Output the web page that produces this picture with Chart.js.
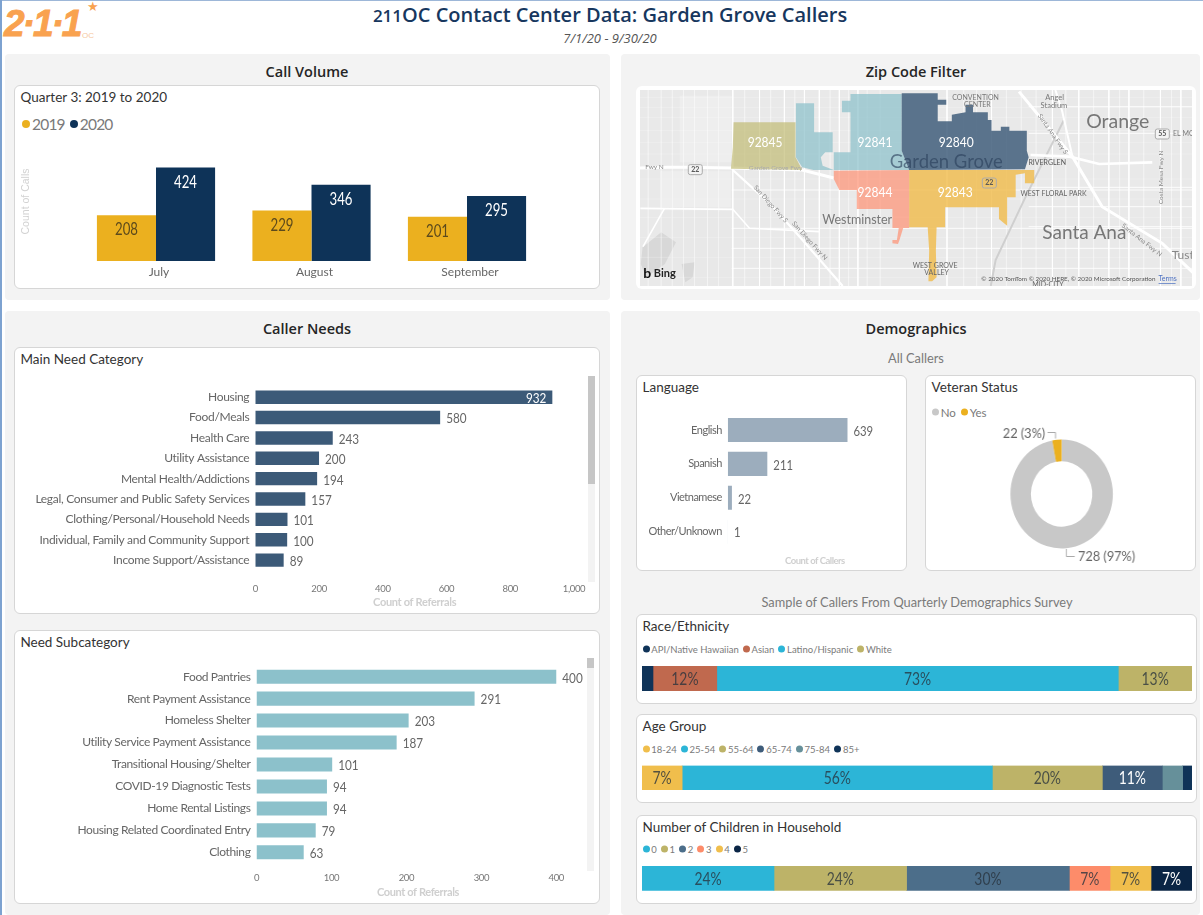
<!DOCTYPE html>
<html>
<head>
<meta charset="utf-8">
<title>211OC Contact Center Data: Garden Grove Callers</title>
<script src="https://cdn.jsdelivr.net/npm/chart.js@4"></script>
<style>
html, body { margin: 0; padding: 0; background: #fff; overflow: hidden; }
#page { position: relative; width: 1203px; height: 915px; overflow: hidden; font-family: Lato, "Liberation Sans", sans-serif; }
#page > * { position: absolute; }
.panel { background: #f3f3f3; border-radius: 4px; }
.card { background: #fff; border: 1.5px solid #d6d6d6; border-radius: 6px; box-sizing: border-box; }
.txt { white-space: nowrap; transform: translateY(-50%); }
.head { font: 600 14.5px "Open Sans", sans-serif; color: #252525; }
.ctitle { font-size: 13.5px; color: #333; }
.sub { font-size: 12.8px; color: #7a7a7a; }
.legend { display: flex; align-items: center; color: #7a7a7a; white-space: nowrap; transform: translateY(-50%); }
.legend i { display: inline-block; border-radius: 50%; }
canvas { display: block; }
</style>
</head>
<body>
<div id="page"></div>
<script>
const callMonths = ["July", "August", "September"];
const calls2019 = [208, 229, 201];
const calls2020 = [424, 346, 295];

const needCategories = ["Housing", "Food/Meals", "Health Care", "Utility Assistance", "Mental Health/Addictions", "Legal, Consumer and Public Safety Services", "Clothing/Personal/Household Needs", "Individual, Family and Community Support", "Income Support/Assistance"];
const needCounts = [932, 580, 243, 200, 194, 157, 101, 100, 89];

const subCategories = ["Food Pantries", "Rent Payment Assistance", "Homeless Shelter", "Utility Service Payment Assistance", "Transitional Housing/Shelter", "COVID-19 Diagnostic Tests", "Home Rental Listings", "Housing Related Coordinated Entry", "Clothing"];
const subCounts = [400, 291, 203, 187, 101, 94, 94, 79, 63];

const languages = ["English", "Spanish", "Vietnamese", "Other/Unknown"];
const languageCounts = [639, 211, 22, 1];

const veteranLabels = ["No", "Yes"];
const veteranCounts = [728, 22];

const raceLabels = ["API/Native Hawaiian", "Asian", "Latino/Hispanic", "White"];
const raceValues = [2, 11.6, 73, 13.4];
const ageLabels = ["18-24", "25-54", "55-64", "65-74", "75-84", "85+"];
const ageValues = [7.3, 56.4, 20, 10.9, 3.7, 1.7];
const childLabels = ["0", "1", "2", "3", "4", "5"];
const childValues = [24, 24.1, 29.6, 7.4, 7.45, 7.45];

// zip code outlines and roads, in map units
const zip92845 = [[305,215],[472,215],[472,320],[490,358],[298,354],[303,290]];
const zip92841 = [[473,158],[522,158],[522,245],[572,245],[572,305],[620,305],[620,185],[597,185],[597,150],[620,150],[620,130],[758,130],[758,300],[778,358],[575,358],[575,305],[552,305],[540,320],[545,345],[575,358],[520,358],[490,350],[473,320]];
const zip92840 = [[758,128],[855,128],[855,147],[878,147],[878,162],[855,162],[855,212],[893,212],[893,192],[930,185],[930,162],[950,162],[950,185],[990,185],[990,208],[1000,208],[1000,240],[1025,240],[1025,228],[1048,228],[1048,240],[1095,240],[1095,300],[1100,320],[1090,356],[778,358],[758,300]];
const zip92844 = [[575,360],[778,358],[778,532],[762,532],[752,568],[748,580],[733,578],[733,568],[745,568],[750,532],[733,532],[733,475],[637,475],[637,418],[590,418],[575,385]];
const zip92843 = [[778,358],[1090,358],[1090,368],[1065,372],[1065,440],[1042,440],[1042,525],[1020,505],[1020,470],[998,470],[875,470],[875,530],[852,530],[850,600],[852,680],[840,692],[830,692],[832,600],[828,530],[778,530]];
const zip92843b = [[1090,358],[1115,358],[1115,398],[1090,398]];
const zipLabels = ["92845", "92841", "92840", "92844", "92843"];
const zipLabelSpots = [[390,275],[686,275],[905,275],[686,425],[902,425]];

const hwy22 = [[53,352],[130,350],[175,350],[300,352],[490,358],[575,382]];
const hwy22East = [[1105,313],[1210,318],[1290,340],[1433,335]];
const hwy5 = [[1074,123],[1218,318],[1298,468],[1460,578],[1545,668]];
const hwy405 = [[303,358],[402,458],[483,558],[599,706]];
const hwy57 = [[1172,118],[1190,180],[1218,318]];
const railLine = [[1195,208],[1092,438],[1011,628],[998,706]];
const westRoad = [[54,473],[303,476],[348,533],[536,543]];
const westSpur = [[119,473],[61,588]];
const mainVertical = [303, 375, 442, 496, 536, 590, 640, 880, 1000, 1164, 1235, 1316, 1370, 1455, 1510];
const mainHorizontal = [418, 533, 593, 653];
const eastHorizontal = [168, 248, 410, 468, 528];
const minorVertical = [75, 110, 140, 170, 200, 235, 265, 335, 405, 470, 565, 615, 665, 700, 925, 960, 1040, 1080, 1120, 1200, 1275, 1345, 1410, 1485];
const minorHorizontal = [140, 170, 200, 240, 275, 310, 385, 445, 500, 560, 620, 680];
const lotWest = [[108,362],[298,362],[298,470],[108,470]];
const lotSouth = [[108,482],[298,482],[298,706],[108,706]];
const lotNorth = [[160,135],[300,135],[300,335],[160,335]];
const parkShape = [[60,590],[110,545],[150,575],[120,640],[70,680],[55,640]];
const pondShape = [[165,640],[200,635],[195,680],[175,695]];

const mapLabels = [
  ["Orange", 1340, 213, 19.5, "#777"], ["Santa Ana", 1250, 548, 19, "#777"], ["Westminster", 638, 508, 12.5, "#777"],
  ["Garden Grove", 878, 335, 18.5, "rgba(40,62,88,.62)"], ["Tust", 1515, 612, 12, "#888"],
  ["CONVENTION", 957, 142, 7, "#777"], ["CENTER", 962, 162, 7, "#777"], ["Angel", 1170, 140, 7.5, "#777"], ["Stadium", 1168, 165, 7.5, "#777"],
  ["RIVERGLEN", 1150, 335, 7, "#555"], ["WEST FLORAL PARK", 1167, 430, 7, "#666"], ["WEST GROVE", 848, 645, 7, "#666"], ["VALLEY", 852, 666, 7, "#666"],
  ["EL MO", 1518, 250, 7, "#777"], ["MID-CITY", 1152, 702, 7, "#666"], ["Garden Grove Fwy", 418, 352, 6.5, "#aaa"], ["Fwy N", 92, 348, 6.5, "#888"], ["© 2020 TomTom © 2020 HERE, © 2020 Microsoft Corporation", 1207, 685, 6.3, "#555"]
];
const mapSlantLabels = [
  ["San Diego Fwy S", 405, 460, 48], ["San Diego Fwy N", 510, 570, 48], ["Santa Ana Fwy N", 1405, 568, 38],
  ["Santa Ana Fwy S", 1165, 250, 55], ["Costa Mesa Fwy N", 1456, 380, -90]
];
const mapShields = [["22", 202, 357], ["22", 994, 397], ["55", 1460, 250]];

const FONT = 'Lato, "Liberation Sans", sans-serif';
const page = document.getElementById("page");
Chart.defaults.animation = false;
Chart.defaults.responsive = false;
Chart.defaults.plugins.legend.display = false;
Chart.defaults.plugins.tooltip.enabled = false;
Chart.defaults.font.family = FONT;

function div(cls, x, y, w, h) {
  const d = document.createElement("div");
  d.className = cls;
  d.style.left = x + "px";
  d.style.top = y + "px";
  if (w) d.style.width = w + "px";
  if (h) d.style.height = h + "px";
  page.appendChild(d);
  return d;
}
function text(str, x, y, cls, align, css) {
  const d = div("txt " + cls, x, y);
  d.textContent = str;
  if (align === "center") d.style.transform = "translate(-50%,-50%)";
  if (css) d.style.cssText += css;
  return d;
}
function legend(labels, colors, x, y, size, dot, gap) {
  const d = div("legend", x, y);
  d.style.fontSize = size + "px";
  labels.forEach((l, i) => {
    const m = document.createElement("i");
    m.style.cssText = `width:${dot}px;height:${dot}px;background:${colors[i]};margin-right:${Math.max(1, dot / 4)}px;margin-left:${i ? gap : 0}px`;
    d.appendChild(m);
    d.appendChild(document.createTextNode(l));
  });
  return d;
}
function canvas(x, y, w, h) {
  const c = document.createElement("canvas");
  c.width = w;
  c.height = h;
  c.style.left = x + "px";
  c.style.top = y + "px";
  page.appendChild(c);
  return c;
}
// the value figures in the reference are narrow, so squeeze them sideways
function slimText(ctx, str, x, y, squeeze) {
  ctx.save();
  ctx.translate(x, y);
  ctx.scale(squeeze, 1);
  ctx.fillText(str, 0, 0);
  ctx.restore();
}

// labels next to horizontal bars, and tighter axis text
const barEndLabels = {
  id: "barEndLabels",
  beforeDraw(chart, args, o) {
    chart.ctx.letterSpacing = o.tighten;
  },
  afterDatasetsDraw(chart, args, o) {
    const { ctx } = chart;
    chart.getDatasetMeta(0).data.forEach((bar, i) => {
      const v = chart.data.datasets[0].data[i];
      ctx.save();
      ctx.letterSpacing = "0px";
      ctx.font = `${o.size}px ${FONT}`;
      ctx.textBaseline = "middle";
      if (o.insideOver && v > o.insideOver) {
        ctx.fillStyle = "#fff";
        ctx.textAlign = "right";
        slimText(ctx, v, bar.x - 6, bar.y + 1.5, 0.87);
      } else {
        ctx.fillStyle = "#666";
        ctx.textAlign = "left";
        slimText(ctx, v, bar.x + 6, bar.y + 1.5, 0.87);
      }
      ctx.restore();
    });
  }
};

function hbar(card, plot, labels, values, color, opts) {
  const c = canvas(card.x, card.y, card.w, card.h);
  new Chart(c, {
    type: "bar",
    data: { labels, datasets: [{ data: values, backgroundColor: color, categoryPercentage: opts.ratio, barPercentage: 1 }] },
    options: {
      indexAxis: "y",
      layout: { padding: { left: 2, top: plot.y0 - card.y, right: card.x + card.w - plot.x1, bottom: card.y + card.h - plot.y1 - opts.axisH } },
      scales: {
        x: {
          min: 0, max: opts.max,
          grid: { display: false, drawTicks: false }, border: { display: false },
          afterFit(s) { s.height = opts.axisH; },
          ticks: { display: opts.ticks !== false, padding: opts.tickPad, font: { size: 9.5 }, color: "#777", stepSize: opts.step, includeBounds: false, maxRotation: 0, autoSkip: false, callback: (v) => v.toLocaleString("en-US") },
          title: { display: true, text: opts.axisTitle, color: "#cfcfcf", padding: 0, font: { size: opts.titleSize || 11, weight: "bold" } }
        },
        y: {
          grid: { display: false, drawTicks: false }, border: { display: false },
          afterFit(s) { s.width = plot.x0 - card.x - 2; },
          ticks: { padding: 6, autoSkip: false, font: { size: opts.catSize || 12 }, color: "#666" }
        }
      },
      plugins: { barEndLabels: { size: opts.valSize || 13.5, insideOver: opts.insideOver, tighten: opts.tighten } }
    },
    plugins: [barEndLabels]
  });
}

// one row of 100% stacked segments
const stackLabels = {
  id: "stackLabels",
  afterDatasetsDraw(chart, args, o) {
    const { ctx } = chart;
    chart.data.datasets.forEach((ds, i) => {
      const v = ds.data[0];
      if (v < 5) return;
      const bar = chart.getDatasetMeta(i).data[0];
      ctx.save();
      ctx.font = `16.5px ${FONT}`;
      ctx.textAlign = "center";
      ctx.textBaseline = "middle";
      ctx.fillStyle = o.text[i];
      slimText(ctx, Math.round(v) + "%", (bar.base + bar.x) / 2, bar.y + 1, 0.84);
      ctx.restore();
    });
  }
};
function stack(card, plot, labels, values, colors, inks) {
  const c = canvas(card.x, card.y, card.w, card.h);
  new Chart(c, {
    type: "bar",
    data: {
      labels: [""],
      datasets: labels.map((l, i) => ({ label: l, data: [values[i]], backgroundColor: colors[i], categoryPercentage: 1, barPercentage: 1 }))
    },
    options: {
      indexAxis: "y",
      layout: { padding: { left: plot.x0 - card.x, top: plot.y0 - card.y, right: card.x + card.w - plot.x1, bottom: card.y + card.h - plot.y1 } },
      scales: {
        x: { display: false, stacked: true, min: 0, max: values.reduce((a, b) => a + b, 0) },
        y: { display: false, stacked: true }
      },
      plugins: { stackLabels: { text: inks } }
    },
    plugins: [stackLabels]
  });
}

// header
div("", 0, 0, 1203, 1).style.background = "#9db7d8";
div("", 0, 0, 2, 915).style.background = "#7da2d0";
text("2·1·1", 4, 24, "", "", 'font:italic bold 37px "Liberation Sans",sans-serif;color:#f9a24f;letter-spacing:-2px;-webkit-text-stroke:1px #f9a24f');
text("★", 87, 6, "", "", "font-size:13px;color:#f9a24f");
text("OC", 82, 35, "", "", 'font:8px "Liberation Sans",sans-serif;color:#f6c8a0');
const mainTitle = text("", 610, 14, "", "center", 'font:600 20px "Open Sans",sans-serif;color:#17375e');
mainTitle.innerHTML = '<span style="font-size:17px">211</span>OC Contact Center Data: Garden Grove Callers';
text("7/1/20 - 9/30/20", 610, 38, "", "center", 'font:italic 13px "Open Sans",sans-serif;color:#555');

// panels
div("panel", 5, 54, 605, 246);
div("panel", 621, 54, 579, 246);
div("panel", 5, 311, 605, 604);
div("panel", 621, 311, 579, 604);
text("Call Volume", 307, 70.5, "head", "center");
text("Zip Code Filter", 916, 70.5, "head", "center");
text("Caller Needs", 307, 327.5, "head", "center");
text("Demographics", 916, 327.5, "head", "center");
text("All Callers", 916, 358, "sub", "center");
text("Sample of Callers From Quarterly Demographics Survey", 917, 601.5, "sub", "center");

// call volume
const callCard = { x: 14, y: 85, w: 586, h: 204 };
div("card", callCard.x, callCard.y, callCard.w, callCard.h);
text("Quarter 3: 2019 to 2020", 20.5, 97, "ctitle");
legend(["2019", "2020"], ["#ebb01f", "#0e3358"], 22, 124, 15.5, 8, 5).style.letterSpacing = "-0.8px";
const callBarLabels = {
  id: "callBarLabels",
  afterDatasetsDraw(chart) {
    const { ctx } = chart;
    chart.data.datasets.forEach((ds, d) => {
      chart.getDatasetMeta(d).data.forEach((bar, i) => {
        ctx.save();
        ctx.font = `16.5px ${FONT}`;
        ctx.textAlign = "center";
        ctx.textBaseline = "middle";
        ctx.fillStyle = d ? "#fff" : "#5c4a1c";
        slimText(ctx, ds.data[i], bar.x, bar.y + 15, 0.8);
        ctx.restore();
      });
    });
  }
};
new Chart(canvas(callCard.x, callCard.y, callCard.w, callCard.h), {
  type: "bar",
  data: {
    labels: callMonths,
    datasets: [
      { label: "2019", data: calls2019, backgroundColor: "#ebb01f", categoryPercentage: 0.76, barPercentage: 1 },
      { label: "2020", data: calls2020, backgroundColor: "#0e3358", categoryPercentage: 0.76, barPercentage: 1 }
    ]
  },
  options: {
    layout: { padding: { left: 6, top: 142 - 85, right: 600 - 544.75, bottom: 289 - 261 - 20 } },
    scales: {
      x: { grid: { display: false, drawTicks: false }, border: { display: false }, afterFit(s) { s.height = 20; }, ticks: { padding: 4, labelOffset: 3, font: { size: 12 }, color: "#666" } },
      y: {
        min: 0, max: 540,
        grid: { display: false, drawTicks: false }, border: { display: false },
        afterFit(s) { s.width = 78.25 - 14 - 6; },
        ticks: { display: false },
        title: { display: true, text: "Count of Calls", color: "#d2d2d2", padding: 0, font: { size: 10.5, family: '"Liberation Sans", sans-serif' } }
      }
    }
  },
  plugins: [callBarLabels]
});

// map
div("card", 636, 86, 560, 203).style.border = "none";
const toPts = (a) => a.map(([x, y]) => ({ x, y }));
const area = (pts, color) => ({ data: toPts(pts.concat([pts[0]])), showLine: true, borderWidth: 0, backgroundColor: color, fill: "shape", pointRadius: 0 });
const road = (pts, width, color) => ({ data: toPts(pts), showLine: true, borderWidth: width, borderColor: color || "#fff", fill: false, pointRadius: 0, tension: 0 });
const mapLayers = [
  area(zip92840, "rgba(62,92,122,.84)"),
  area(zip92841, "rgba(140,193,203,.72)"),
  area(zip92845, "rgba(192,186,112,.68)"),
  area(zip92844, "rgba(253,150,122,.74)"),
  area(zip92843, "rgba(240,186,72,.8)"),
  area(zip92843b, "rgba(240,186,72,.8)"),
  road(hwy5, 3), road(hwy22, 3), road(hwy22East, 2.6), road(hwy405, 2.2), road(hwy57, 2),
  road(railLine, 2, "#cfcfcf"),
  road(westRoad, 1.6), road(westSpur, 1.6)
];
mainVertical.forEach((x) => mapLayers.push(road([[x, 118], [x, 706]], 1, "rgba(255,255,255,.85)")));
mainHorizontal.forEach((y) => mapLayers.push(road([[300, y], [1540, y]], 1, "rgba(255,255,255,.85)")));
eastHorizontal.forEach((y) => mapLayers.push(road([[1100, y], [1540, y]], 1, "rgba(255,255,255,.85)")));
minorVertical.forEach((x) => mapLayers.push(road([[x, 118], [x, 706]], 0.5, "rgba(255,255,255,.45)")));
minorHorizontal.forEach((y) => mapLayers.push(road([[53, y], [1540, y]], 0.5, "rgba(255,255,255,.45)")));
mapLayers.push(area(parkShape, "#d8d8d8"), area(pondShape, "#d8d8d8"), area(lotWest, "#eeeeee"), area(lotSouth, "#e8e8e8"), area(lotNorth, "#eeeeee"));
const mapText = {
  id: "mapText",
  afterDatasetsDraw(chart) {
    const { ctx, scales: { x, y } } = chart;
    ctx.save();
    ctx.textAlign = "center";
    ctx.textBaseline = "middle";
    mapLabels.forEach(([t, mx, my, size, color]) => {
      ctx.font = `${size}px ${FONT}`;
      ctx.fillStyle = color;
      ctx.fillText(t, x.getPixelForValue(mx), y.getPixelForValue(my));
    });
    mapSlantLabels.forEach(([t, mx, my, deg]) => {
      ctx.save();
      ctx.translate(x.getPixelForValue(mx), y.getPixelForValue(my));
      ctx.rotate(deg * Math.PI / 180);
      ctx.font = `6.5px ${FONT}`;
      ctx.fillStyle = "#888";
      ctx.fillText(t, 0, 0);
      ctx.restore();
    });
    mapShields.forEach(([t, mx, my]) => {
      const px = x.getPixelForValue(mx), py = y.getPixelForValue(my);
      ctx.fillStyle = "#f4f4f4";
      ctx.strokeStyle = "#aaa";
      ctx.beginPath();
      ctx.roundRect(px - 7, py - 5, 14, 10, 2);
      if (mx !== 994) ctx.fill();
      ctx.stroke();
      ctx.font = `bold 7px ${FONT}`;
      ctx.fillStyle = "#555";
      ctx.fillText(t, px, py);
    });
    ctx.font = `14px ${FONT}`;
    ctx.fillStyle = "#fff";
    zipLabels.forEach((z, i) => slimText(ctx, z, x.getPixelForValue(zipLabelSpots[i][0]), y.getPixelForValue(zipLabelSpots[i][1]), 0.86));
    ctx.textAlign = "left";
    ctx.font = `bold 11px ${FONT}`;
    ctx.fillStyle = "#222";
    ctx.fillText("Bing", x.getPixelForValue(90), y.getPixelForValue(668));
    ctx.fillStyle = "#111";
    ctx.font = `bold 14px ${FONT}`;
    ctx.fillText("b", x.getPixelForValue(62), y.getPixelForValue(668));
    ctx.font = `7px ${FONT}`;
    ctx.fillStyle = "#4a6fc0";
    ctx.fillText("Terms", x.getPixelForValue(1450), y.getPixelForValue(685));
    ctx.fillRect(x.getPixelForValue(1450), y.getPixelForValue(685) + 4, 17, 0.7);
    ctx.restore();
  }
};
const mapCanvas = canvas(640, 90, 552, 196);
mapCanvas.style.background = "#e9e9e9";
mapCanvas.style.filter = "blur(.45px)";
new Chart(mapCanvas, {
  type: "scatter",
  data: { datasets: mapLayers },
  options: {
    scales: { x: { display: false, min: 53, max: 1540 }, y: { display: false, min: 118, max: 706, reverse: true } }
  },
  plugins: [mapText]
});

// caller needs
const needCard = { x: 14, y: 347, w: 586, h: 267 };
div("card", needCard.x, needCard.y, needCard.w, needCard.h);
text("Main Need Category", 20.5, 359, "ctitle");
div("", 588, 376, 7, 206).style.background = "#f3f3f3";
div("", 588, 376, 7, 108).style.background = "#c6c6c6";
hbar(needCard, { x0: 255.3, x1: 574, y0: 387, y1: 570.3 }, needCategories, needCounts, "#3c5a78", { ratio: 0.66, max: 1000, step: 200, axisH: 39, tickPad: 13, axisTitle: "Count of Referrals", insideOver: 800, tighten: "-0.31px" });

const subCard = { x: 14, y: 630, w: 586, h: 274 };
div("card", subCard.x, subCard.y, subCard.w, subCard.h);
text("Need Subcategory", 20.5, 641.5, "ctitle");
div("", 587, 658, 7, 213).style.background = "#f3f3f3";
div("", 587, 658, 7, 10).style.background = "#c6c6c6";
hbar(subCard, { x0: 256.5, x1: 579.5, y0: 665.7, y1: 863.3 }, subCategories, subCounts, "#8cc1cb", { ratio: 0.64, max: 431, step: 100, axisH: 36, tickPad: 9, axisTitle: "Count of Referrals", tighten: "-0.38px" });

// demographics
const langCard = { x: 636, y: 375, w: 271, h: 196 };
div("card", langCard.x, langCard.y, langCard.w, langCard.h);
text("Language", 642.5, 387, "ctitle");
hbar(langCard, { x0: 727.8, x1: 902, y0: 413, y1: 548.7 }, languages, languageCounts, "#9cadbd", { ratio: 0.71, max: 930, ticks: false, axisH: 18, tickPad: 0, axisTitle: "Count of Callers", titleSize: 9.5, catSize: 11, valSize: 13, tighten: "-0.5px" });

const vetCard = { x: 925, y: 375, w: 271, h: 196 };
div("card", vetCard.x, vetCard.y, vetCard.w, vetCard.h);
text("Veteran Status", 931.5, 387, "ctitle");
legend(veteranLabels, ["#c8c8c8", "#ebb01f"], 932, 412, 11.5, 7, 5);
const donutCallouts = {
  id: "donutCallouts",
  afterDatasetsDraw(chart) {
    const { ctx } = chart;
    const arc = chart.getDatasetMeta(0).data[0];
    const cx = arc.x, cy = arc.y;
    const total = veteranCounts[0] + veteranCounts[1];
    const pct = (v) => `${v} (${Math.round(v / total * 100)}%)`;
    ctx.save();
    ctx.strokeStyle = "#aaa";
    ctx.lineWidth = 1;
    ctx.beginPath();
    ctx.moveTo(cx - 15, cy - 61.5);
    ctx.lineTo(cx - 6.5, cy - 61.5);
    ctx.lineTo(cx - 6.5, cy - 55.5);
    ctx.moveTo(cx + 5, cy + 55);
    ctx.lineTo(cx + 5, cy + 62.5);
    ctx.lineTo(cx + 14, cy + 62.5);
    ctx.stroke();
    ctx.font = `13.5px ${FONT}`;
    ctx.fillStyle = "#666";
    ctx.textBaseline = "middle";
    ctx.textAlign = "right";
    ctx.fillText(pct(veteranCounts[1]), cx - 17.5, cy - 60);
    ctx.textAlign = "left";
    ctx.fillText(pct(veteranCounts[0]), cx + 17.5, cy + 62.7);
    ctx.restore();
  }
};
const vetCanvas = canvas(vetCard.x, vetCard.y, vetCard.w, vetCard.h);
vetCanvas.style.transformOrigin = (1061.6 - vetCard.x) + "px 50%";
vetCanvas.style.transform = "scaleX(.94)";
new Chart(vetCanvas, {
  type: "doughnut",
  data: { labels: veteranLabels, datasets: [{ data: veteranCounts, backgroundColor: ["#c8c8c8", "#ebb01f"], borderWidth: 0 }] },
  options: {
    cutout: "60%",
    layout: { padding: { left: 1061.6 - 54.5 - vetCard.x, right: vetCard.x + vetCard.w - 1061.6 - 54.5, top: 494 - 54.5 - vetCard.y, bottom: vetCard.y + vetCard.h - 494 - 54.5 } }
  },
  plugins: [donutCallouts]
});

const raceColors = ["#0f3358", "#c0694e", "#2cb5d7", "#bdb368"];
const ageColors = ["#f0be4c", "#2cb5d7", "#bdb368", "#3e5c7a", "#66909a", "#0f3358"];
const childColors = ["#2cb5d7", "#bdb368", "#4c6e8a", "#fd8c6a", "#f0be4c", "#0a2545"];
const INK = "rgba(40,50,60,.78)";

const raceCard = { x: 636, y: 614, w: 561, h: 90 };
div("card", raceCard.x, raceCard.y, raceCard.w, raceCard.h);
text("Race/Ethnicity", 642.5, 626, "ctitle");
legend(raceLabels, raceColors, 642.5, 649, 9.5, 7, 4);
stack(raceCard, { x0: 642, x1: 1192, y0: 666, y1: 691 }, raceLabels, raceValues, raceColors, ["#fff", INK, INK, INK]);

const ageCard = { x: 636, y: 714, w: 561, h: 89 };
div("card", ageCard.x, ageCard.y, ageCard.w, ageCard.h);
text("Age Group", 642.5, 726, "ctitle");
legend(ageLabels, ageColors, 642.5, 749, 9.5, 7, 4);
stack(ageCard, { x0: 642, x1: 1192, y0: 765.5, y1: 790 }, ageLabels, ageValues, ageColors, [INK, INK, INK, "#fff", "#fff", "#fff"]);

const childCard = { x: 636, y: 815, w: 561, h: 89 };
div("card", childCard.x, childCard.y, childCard.w, childCard.h);
text("Number of Children in Household", 642.5, 826.5, "ctitle");
legend(childLabels, childColors, 642.5, 849, 9.5, 7, 4);
stack(childCard, { x0: 642, x1: 1192, y0: 866, y1: 890.7 }, childLabels, childValues, childColors, [INK, INK, INK, INK, INK, "#fff"]);
</script>
</body>
</html>
